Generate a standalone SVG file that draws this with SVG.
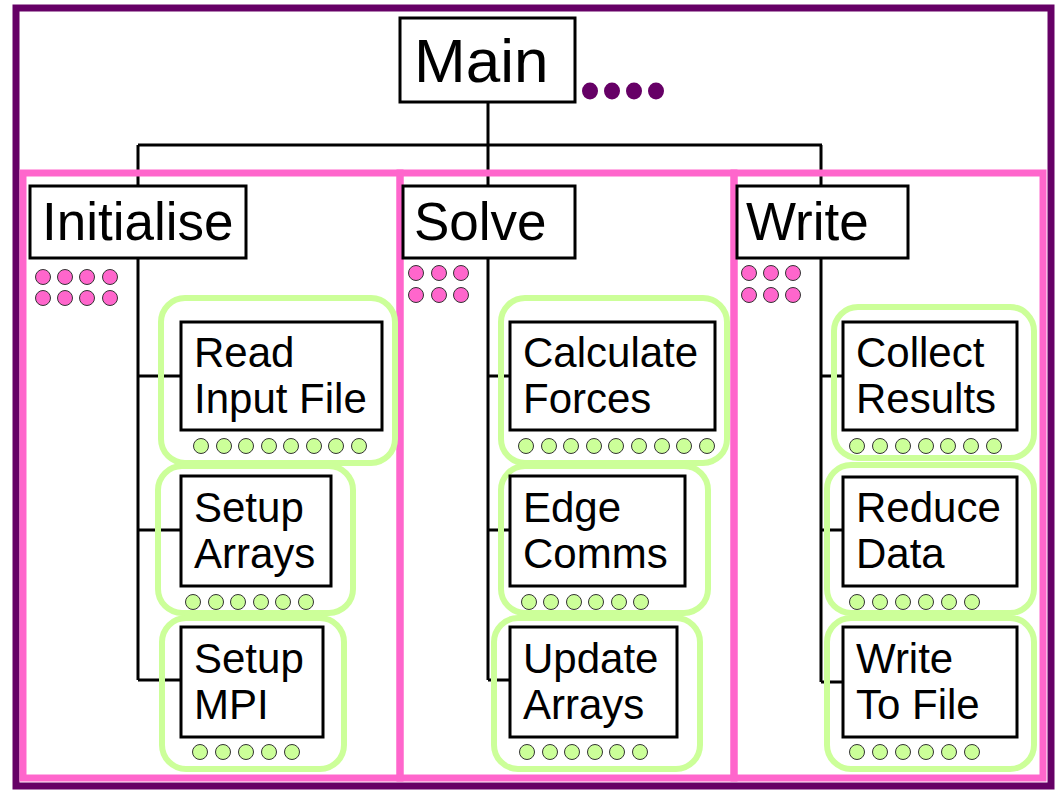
<svg xmlns="http://www.w3.org/2000/svg" width="1058" height="794" viewBox="0 0 1058 794">
<style>
.box{fill:#fff;stroke:#000;stroke-width:3}
.grp{fill:none;stroke:#ccff99;stroke-width:6}
.pink{fill:none;stroke:#ff66cc;stroke-width:7}
.con{fill:none;stroke:#000;stroke-width:3}
.pd{fill:#ff66cc;stroke:#333;stroke-width:1}
.gd{fill:#ccff99;stroke:#333;stroke-width:1}
.big{font-family:"Liberation Sans",Arial,sans-serif;font-size:53px;fill:#000}
.t{font-family:"Liberation Sans",Arial,sans-serif;font-size:42px;fill:#000}
</style>
<rect width="1058" height="794" fill="#fff"/>
<rect id="outer" x="16" y="8" width="1035" height="778" fill="none" stroke="#660066" stroke-width="7"/>
<g id="connectors">
<path class="con" d="M488 102V145M138 145H822M138 145V186M488 145V186M821 145V186"/>
<path class="con" d="M138 258V680M138 376H181M138 530H181M138 680H181"/>
<path class="con" d="M488 258V680M488 376H510M488 530H510M488 680H510"/>
<path class="con" d="M821 258V682M821 376H843M821 530H843M821 682H843"/>
</g>
<g id="panels">
<rect class="pink" x="23" y="173" width="377" height="605"/>
<rect class="pink" x="400" y="173" width="334" height="605"/>
<rect class="pink" x="734" y="173" width="309" height="605"/>
</g>
<g id="main">
<rect class="box" x="400" y="18" width="175" height="84"/>
<text x="414" y="82" font-family="Liberation Sans, Arial, sans-serif" font-size="62">Main</text>
<g fill="#660066"><ellipse cx="590" cy="91" rx="8" ry="8.5"/><ellipse cx="612" cy="91" rx="8" ry="8.5"/><ellipse cx="634" cy="91" rx="8" ry="8.5"/><ellipse cx="656" cy="91" rx="8" ry="8.5"/></g>
</g>
<g id="initialise">
<rect class="box" x="30" y="186" width="216" height="72"/>
<text class="big" x="42" y="240">Initialise</text>
<circle class="pd" cx="43" cy="277" r="7.5"/><circle class="pd" cx="65" cy="277" r="7.5"/><circle class="pd" cx="87" cy="277" r="7.5"/><circle class="pd" cx="110" cy="277" r="7.5"/>
<circle class="pd" cx="43" cy="298" r="7.5"/><circle class="pd" cx="65" cy="298" r="7.5"/><circle class="pd" cx="87" cy="298" r="7.5"/><circle class="pd" cx="110" cy="298" r="7.5"/>
</g>
<g id="solve">
<rect class="box" x="403" y="186" width="172" height="72"/>
<text class="big" x="414" y="240">Solve</text>
<circle class="pd" cx="416" cy="273" r="7.5"/><circle class="pd" cx="439" cy="273" r="7.5"/><circle class="pd" cx="461" cy="273" r="7.5"/>
<circle class="pd" cx="416" cy="295" r="7.5"/><circle class="pd" cx="439" cy="295" r="7.5"/><circle class="pd" cx="461" cy="295" r="7.5"/>
</g>
<g id="write">
<rect class="box" x="737" y="186" width="171" height="72"/>
<text class="big" x="746" y="240">Write</text>
<circle class="pd" cx="749" cy="273" r="7.5"/><circle class="pd" cx="771" cy="273" r="7.5"/><circle class="pd" cx="793" cy="273" r="7.5"/>
<circle class="pd" cx="749" cy="295" r="7.5"/><circle class="pd" cx="771" cy="295" r="7.5"/><circle class="pd" cx="793" cy="295" r="7.5"/>
</g>
<g id="read-input-file">
<rect class="grp" x="161" y="298" width="234" height="165" rx="24"/>
<rect class="box" x="181" y="322" width="201" height="108"/>
<text class="t" x="194" y="367">Read</text><text class="t" x="194" y="413">Input File</text>
<circle class="gd" cx="201" cy="446" r="7.5"/><circle class="gd" cx="224" cy="446" r="7.5"/><circle class="gd" cx="246" cy="446" r="7.5"/><circle class="gd" cx="269" cy="446" r="7.5"/><circle class="gd" cx="291" cy="446" r="7.5"/><circle class="gd" cx="314" cy="446" r="7.5"/><circle class="gd" cx="336" cy="446" r="7.5"/><circle class="gd" cx="359" cy="446" r="7.5"/>
</g>
<g id="setup-arrays">
<rect class="grp" x="158" y="466" width="195" height="147" rx="24"/>
<rect class="box" x="181" y="476" width="150" height="110"/>
<text class="t" x="194" y="522">Setup</text><text class="t" x="194" y="568">Arrays</text>
<circle class="gd" cx="193" cy="602" r="7.5"/><circle class="gd" cx="216" cy="602" r="7.5"/><circle class="gd" cx="238" cy="602" r="7.5"/><circle class="gd" cx="261" cy="602" r="7.5"/><circle class="gd" cx="283" cy="602" r="7.5"/><circle class="gd" cx="306" cy="602" r="7.5"/>
</g>
<g id="setup-mpi">
<rect class="grp" x="162" y="618" width="182" height="151" rx="24"/>
<rect class="box" x="181" y="627" width="142" height="110"/>
<text class="t" x="194" y="673">Setup</text><text class="t" x="194" y="719">MPI</text>
<circle class="gd" cx="200" cy="752" r="7.5"/><circle class="gd" cx="223" cy="752" r="7.5"/><circle class="gd" cx="246" cy="752" r="7.5"/><circle class="gd" cx="269" cy="752" r="7.5"/><circle class="gd" cx="292" cy="752" r="7.5"/>
</g>
<g id="calculate-forces">
<rect class="grp" x="501" y="298" width="226" height="165" rx="24"/>
<rect class="box" x="510" y="322" width="205" height="108"/>
<text class="t" x="523" y="367">Calculate</text><text class="t" x="523" y="413">Forces</text>
<circle class="gd" cx="526" cy="446" r="7.5"/><circle class="gd" cx="549" cy="446" r="7.5"/><circle class="gd" cx="571" cy="446" r="7.5"/><circle class="gd" cx="594" cy="446" r="7.5"/><circle class="gd" cx="616" cy="446" r="7.5"/><circle class="gd" cx="639" cy="446" r="7.5"/><circle class="gd" cx="662" cy="446" r="7.5"/><circle class="gd" cx="684" cy="446" r="7.5"/><circle class="gd" cx="707" cy="446" r="7.5"/>
</g>
<g id="edge-comms">
<rect class="grp" x="501" y="466" width="207" height="147" rx="24"/>
<rect class="box" x="510" y="476" width="175" height="110"/>
<text class="t" x="523" y="522">Edge</text><text class="t" x="523" y="568">Comms</text>
<circle class="gd" cx="529" cy="602" r="7.5"/><circle class="gd" cx="551" cy="602" r="7.5"/><circle class="gd" cx="574" cy="602" r="7.5"/><circle class="gd" cx="596" cy="602" r="7.5"/><circle class="gd" cx="619" cy="602" r="7.5"/><circle class="gd" cx="641" cy="602" r="7.5"/>
</g>
<g id="update-arrays">
<rect class="grp" x="494" y="618" width="206" height="151" rx="24"/>
<rect class="box" x="510" y="627" width="167" height="110"/>
<text class="t" x="523" y="673">Update</text><text class="t" x="523" y="719">Arrays</text>
<circle class="gd" cx="527" cy="752" r="7.5"/><circle class="gd" cx="550" cy="752" r="7.5"/><circle class="gd" cx="572" cy="752" r="7.5"/><circle class="gd" cx="595" cy="752" r="7.5"/><circle class="gd" cx="617" cy="752" r="7.5"/><circle class="gd" cx="640" cy="752" r="7.5"/>
</g>
<g id="collect-results">
<rect class="grp" x="834" y="307" width="200" height="151" rx="24"/>
<rect class="box" x="843" y="322" width="174" height="108"/>
<text class="t" x="856" y="367">Collect</text><text class="t" x="856" y="413">Results</text>
<circle class="gd" cx="857" cy="446" r="7.5"/><circle class="gd" cx="880" cy="446" r="7.5"/><circle class="gd" cx="903" cy="446" r="7.5"/><circle class="gd" cx="926" cy="446" r="7.5"/><circle class="gd" cx="948" cy="446" r="7.5"/><circle class="gd" cx="971" cy="446" r="7.5"/><circle class="gd" cx="994" cy="446" r="7.5"/>
</g>
<g id="reduce-data">
<rect class="grp" x="827" y="465" width="207" height="148" rx="24"/>
<rect class="box" x="843" y="477" width="174" height="109"/>
<text class="t" x="856" y="522">Reduce</text><text class="t" x="856" y="568">Data</text>
<circle class="gd" cx="857" cy="602" r="7.5"/><circle class="gd" cx="880" cy="602" r="7.5"/><circle class="gd" cx="903" cy="602" r="7.5"/><circle class="gd" cx="926" cy="602" r="7.5"/><circle class="gd" cx="949" cy="602" r="7.5"/><circle class="gd" cx="972" cy="602" r="7.5"/>
</g>
<g id="write-to-file">
<rect class="grp" x="827" y="618" width="207" height="151" rx="24"/>
<rect class="box" x="843" y="627" width="174" height="110"/>
<text class="t" x="856" y="673">Write</text><text class="t" x="856" y="719">To File</text>
<circle class="gd" cx="857" cy="752" r="7.5"/><circle class="gd" cx="880" cy="752" r="7.5"/><circle class="gd" cx="903" cy="752" r="7.5"/><circle class="gd" cx="926" cy="752" r="7.5"/><circle class="gd" cx="949" cy="752" r="7.5"/><circle class="gd" cx="972" cy="752" r="7.5"/>
</g>
</svg>
